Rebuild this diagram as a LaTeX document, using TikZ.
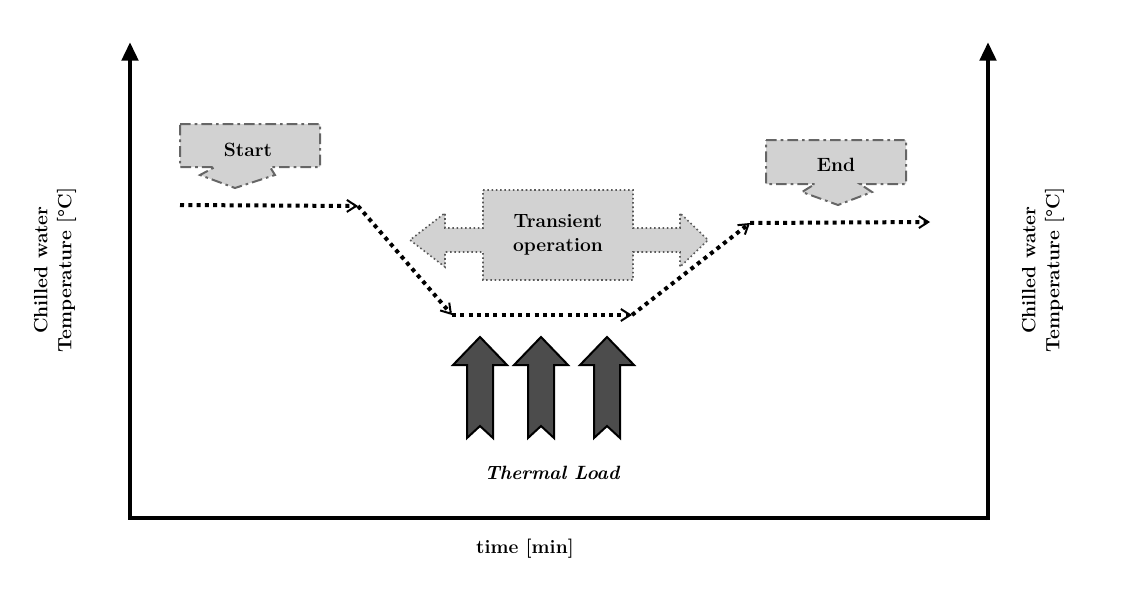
\documentclass[tikz,border=0pt]{standalone}
\usetikzlibrary{arrows.meta}
\tikzset{
  axis/.style={line width=3.5pt,-{Triangle[length=14pt,width=12pt]}},
  track/.style={line width=3pt,dash pattern=on 3pt off 3.2pt,-{Straight Barb[length=7pt,width=9pt,line width=1.5pt]}},
  callout/.style={fill=gray!35,draw=gray!80!black,line width=1.5pt,dash pattern=on 8pt off 3pt on 2pt off 3pt},
  bigarrow/.style={fill=gray!35,draw=gray!70!black,line width=1.2pt,dotted},
  loadarrow/.style={fill=black!70,draw=black,line width=1.5pt},
  lbl/.style={font=\bfseries\Large,align=center},
}
\begin{document}
\begin{tikzpicture}[x=0.75pt,y=0.75pt,yscale=-1,xscale=1]
	\useasboundingbox (0,0) rectangle (1130,592);
	
	%Axes
	\draw [axis] (130,518) -- (130,42) ;
	\draw [line width=3.5pt] (128,518) -- (990,518) ;
	\draw [axis] (988,520) -- (988,42) ;
	\node [lbl,rotate=90] (ylabL) at (55,270) {Chilled water\\Temperature [\textdegree C]};
	\node [lbl,rotate=90] (ylabR) at (1043,270) {Chilled water\\Temperature [\textdegree C]};
	\node [lbl] (xlab) at (525,549) {time [min]};
	
	%Start callout
	\path [callout] (180,124) -- (320,124) -- (320,167) -- (270,167) -- (275,175) -- (235,188) -- (200,175) -- (215,167) -- (180,167) -- cycle ;
	\node [lbl] (start) at (248,150) {Start};
	%End callout
	\path [callout] (766,140) -- (906,140) -- (906,184) -- (860,184) -- (872,192) -- (838,205) -- (802,192) -- (815,184) -- (766,184) -- cycle ;
	\node [lbl] (end) at (836,165) {End};
	
	%Transient operation
	\path [bigarrow] (483,190) -- (633,190) -- (633,228) -- (680,228) -- (680,213) -- (708,240) -- (680,267) -- (680,252) -- (633,252) -- (633,280) -- (483,280) -- (483,252) -- (445,252) -- (445,267) -- (410,240) -- (445,213) -- (445,228) -- (483,228) -- cycle ;
	\node [lbl] (trans) at (558,235) {Transient\\operation};
	
	%Thermal load arrows
	\foreach \x in {480,541,607} {
		\path [loadarrow] (\x-13,438) -- (\x-13,365) -- (\x-27,365) -- (\x,337) -- (\x+27,365) -- (\x+13,365) -- (\x+13,438) -- (\x,426) -- cycle ;
	}
	\node [font=\bfseries\itshape\Large] (load) at (552,473) {Thermal Load};
	
	%Temperature track
	\coordinate (p0) at (180,205);
	\coordinate (p1) at (358,206);
	\coordinate (p2) at (452,315);
	\coordinate (p3) at (632,315);
	\coordinate (p4) at (750,223);
	\coordinate (p5) at (930,222);
	\draw [track] (p0) -- (p1) ;
	\draw [track] (p1) -- (p2) ;
	\draw [track] (p2) -- (p3) ;
	\draw [track] (p3) -- (p4) ;
	\draw [track] (p4) -- (p5) ;
	
\end{tikzpicture}
\end{document}
